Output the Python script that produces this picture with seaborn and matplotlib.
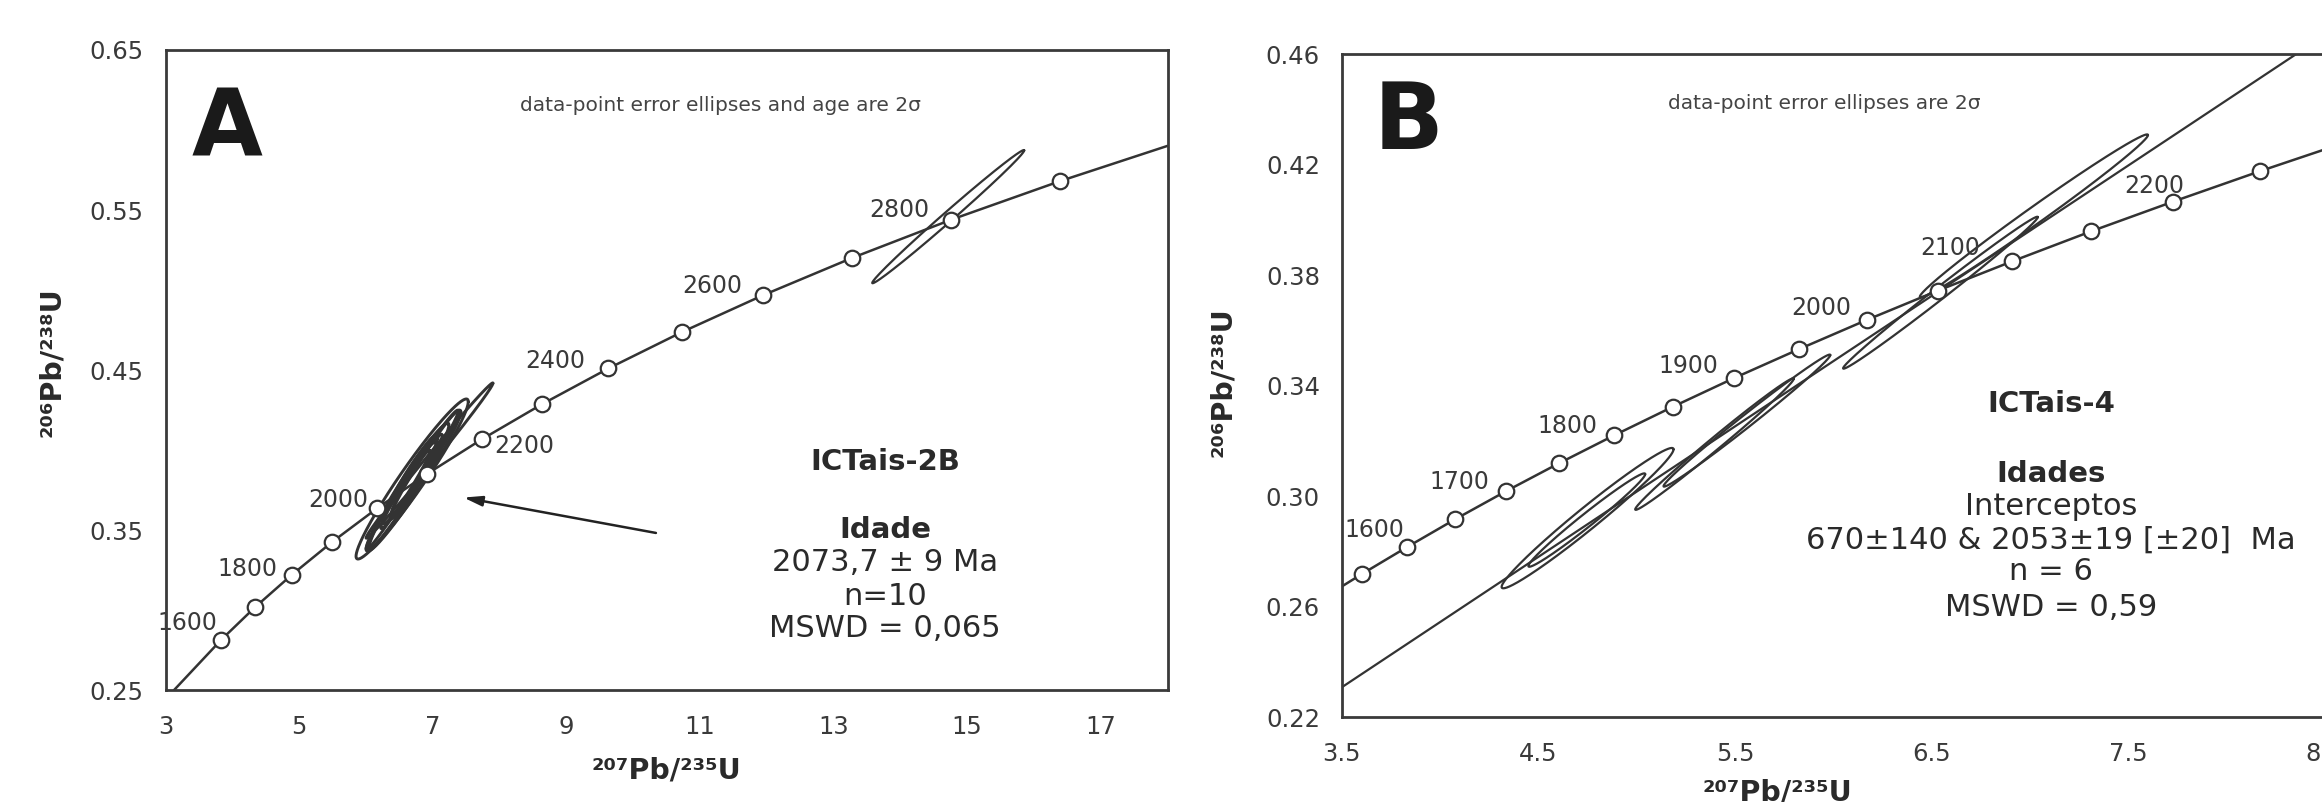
import numpy as np
import matplotlib
matplotlib.use('Agg')
import matplotlib.pyplot as plt
import seaborn as sns

# ---- data ----
# panel A: concordia markers (every 100 Ma)
ages_A = [1600, 1700, 1800, 1900, 2000, 2100, 2200, 2300, 2400, 2500, 2600, 2700, 2800, 2900]
pb207_A = [3.835, 4.335, 4.887, 5.496, 6.169, 6.911, 7.729, 8.633, 9.630, 10.730, 11.944, 13.283, 14.762, 16.393]
pb206_A = [0.2817, 0.3018, 0.3221, 0.3428, 0.3638, 0.3851, 0.4067, 0.4287, 0.4511, 0.4738, 0.4968, 0.5202, 0.5440, 0.5681]
curve_A_x = [3.122] + pb207_A + [18.0]
curve_A_y = [0.2500] + pb206_A + [0.5901]
labels_A = [1600, 1800, 2000, 2200, 2400, 2600, 2800]

# panel A error ellipses: x, half-width x, y, half-width y, rho
ell_A_x = [6.69, 6.95, 6.72, 6.62, 6.80, 6.55, 6.88, 6.66, 6.48, 6.76, 14.717]
ell_A_sx = [0.84, 0.95, 0.70, 0.62, 0.58, 0.50, 0.52, 0.42, 0.48, 0.38, 1.138]
ell_A_y = [0.382, 0.3935, 0.381, 0.377, 0.388, 0.372, 0.391, 0.382, 0.369, 0.385, 0.5459]
ell_A_sy = [0.050, 0.0485, 0.044, 0.040, 0.037, 0.033, 0.034, 0.028, 0.031, 0.025, 0.0416]
ell_A_rho = [0.965, 0.996, 0.975, 0.97, 0.985, 0.97, 0.98, 0.96, 0.985, 0.97, 0.995]

arrow_tail = (10.34, 0.3483)
arrow_head = (7.46, 0.3704)

# panel B: concordia markers (every 50 Ma)
ages_B = [1550, 1600, 1650, 1700, 1750, 1800, 1850, 1900, 1950, 2000, 2050, 2100, 2150, 2200, 2250]
pb207_B = [3.602, 3.835, 4.078, 4.335, 4.604, 4.887, 5.184, 5.496, 5.824, 6.169, 6.530, 6.911, 7.310, 7.729, 8.170]
pb206_B = [0.2718, 0.2817, 0.2917, 0.3018, 0.3119, 0.3221, 0.3324, 0.3428, 0.3532, 0.3638, 0.3744, 0.3851, 0.3959, 0.4067, 0.4177]
curve_B_x = [3.5] + pb207_B + [8.5]
curve_B_y = [0.2673] + pb206_B + [0.4256]
labels_B = [1600, 1700, 1800, 1900, 2000, 2100, 2200]

ell_B_x = [4.751, 4.747, 5.396, 5.561, 6.545, 7.020]
ell_B_sx = [0.437, 0.297, 0.403, 0.424, 0.495, 0.580]
ell_B_y = [0.2921, 0.2914, 0.3189, 0.3274, 0.3737, 0.4015]
ell_B_sy = [0.0254, 0.0169, 0.0238, 0.0239, 0.0275, 0.0295]
ell_B_rho = [0.980, 0.984, 0.993, 0.993, 0.995, 0.992]

# discordia (intercepts 670 and 2053 Ma), where it meets the plot edges
disc_x = [3.5, 8.5]
disc_y = [0.2308, 0.4670]

# ---- styling ----
sns.set_style('white')
plt.rcParams['font.family'] = ['DejaVu Sans']
LINE = '#333333'
TXT = '#3a3a3a'

lab_off_A = {1600: (-3, 12, 'right'), 1800: (-10, 4, 'right'), 2000: (-6.5, 5.5, 'right'),
             2200: (9, -5, 'left'), 2400: (-17, 5, 'right'), 2600: (-15, 6.5, 'right'),
             2800: (-16, 7, 'right')}
lab_off_B = {1600: (-2, 12, 'right'), 1700: (-11.5, 6.5, 'right'), 1800: (-12, 7, 'right'),
             1900: (-11.5, 8.6, 'right'), 2000: (-11, 9, 'right'), 2100: (-23, 9.4, 'right'),
             2200: (8, 11, 'right')}


def ellipse(x0, sx, y0, sy, rho, n=300):
    t = np.linspace(0, 2 * np.pi, n)
    ex = x0 + sx * np.cos(t)
    ey = y0 + sy * (rho * np.cos(t) + np.sqrt(1 - rho ** 2) * np.sin(t))
    return ex, ey


def concordia(ax, cx, cy, px, py, ages, labels, offs):
    sns.lineplot(x=cx, y=cy, ax=ax, color=LINE, linewidth=1.8, sort=False, estimator=None, zorder=2)
    sns.scatterplot(x=px, y=py, ax=ax, marker='o', s=125, color='white',
                    edgecolor=LINE, linewidth=1.6, zorder=6)
    for age, x, y in zip(ages, px, py):
        if age in labels:
            dx, dy, ha = offs[age]
            ax.annotate(str(age), (x, y), xytext=(dx, dy), textcoords='offset points',
                        ha=ha, va='center', fontsize=17, color=TXT, zorder=7)


def style_axes(ax):
    for s in ax.spines.values():
        s.set_linewidth(2.0)
        s.set_color('#3a3a3a')
    ax.tick_params(which='both', direction='in', color='#3a3a3a', width=1.6,
                   labelsize=17.5, labelcolor=TXT, top=False, right=False)


fig = plt.figure(figsize=(23.22, 8.02), dpi=100)

# ---------------- panel A ----------------
axA = fig.add_axes([0.07136, 0.13928, 0.43144, 0.79838])
for i in range(len(ell_A_x)):
    ex, ey = ellipse(ell_A_x[i], ell_A_sx[i], ell_A_y[i], ell_A_sy[i], ell_A_rho[i])
    axA.plot(ex, ey, color=LINE, lw=2.1 if i < 10 else 1.6, zorder=3)
concordia(axA, curve_A_x, curve_A_y, pb207_A, pb206_A, ages_A, labels_A, lab_off_A)
axA.annotate('', xy=arrow_head, xytext=arrow_tail,
             arrowprops=dict(arrowstyle='-|>,head_length=1.1,head_width=0.3',
                             color='#222222', lw=1.8, shrinkA=0, shrinkB=0))
axA.set_xlim(3, 18)
axA.set_ylim(0.25, 0.65)
axA.set_xticks([3, 5, 7, 9, 11, 13, 15, 17])
axA.set_yticks([0.25, 0.35, 0.45, 0.55, 0.65])
axA.set_yticklabels(['0.25', '0.35', '0.45', '0.55', '0.65'])
style_axes(axA)
axA.tick_params(axis='both', length=7.4)
axA.tick_params(axis='x', pad=18)
axA.tick_params(axis='y', pad=16)
axA.set_xlabel('')
axA.set_ylabel('')

axA.text(0.061, 0.876, 'A', transform=axA.transAxes, fontsize=66, fontweight='bold',
         color='#1a1a1a', ha='center', va='center')
axA.text(0.554, 0.914, 'data-point error ellipses and age are 2σ', transform=axA.transAxes,
         fontsize=14.5, color='#444444', ha='center', va='center')
blockA = [('ICTais-2B', 0.3568, 'bold'), ('Idade', 0.2503, 'bold'),
          ('2073,7 ± 9 Ma', 0.1993, 'normal'), ('n=10', 0.1472, 'normal'),
          ('MSWD = 0,065', 0.0972, 'normal')]
for s, yy, w in blockA:
    axA.text(0.718, yy, s, transform=axA.transAxes, fontsize=22 if w == 'normal' else 21,
             fontweight=w, color='#2a2a2a', ha='center', va='center')
axA.text(0.5, -0.104, '²⁰⁷Pb/²³⁵U', transform=axA.transAxes, fontsize=20.5,
         fontweight='bold', color='#2a2a2a', ha='center', va='top')
axA.text(-0.113, 0.513, '²⁰⁶Pb/²³⁸U', transform=axA.transAxes, fontsize=20.5,
         fontweight='bold', color='#2a2a2a', ha='center', va='center', rotation=90)

# ---------------- panel B ----------------
axB = fig.add_axes([0.57774, 0.10561, 0.42356, 0.82668])
for i in range(len(ell_B_x)):
    ex, ey = ellipse(ell_B_x[i], ell_B_sx[i], ell_B_y[i], ell_B_sy[i], ell_B_rho[i])
    axB.plot(ex, ey, color=LINE, lw=1.6, zorder=3)
sns.lineplot(x=disc_x, y=disc_y, ax=axB, color=LINE, linewidth=1.6, zorder=2)
concordia(axB, curve_B_x, curve_B_y, pb207_B, pb206_B, ages_B, labels_B, lab_off_B)
axB.set_xlim(3.5, 8.5)
axB.set_ylim(0.22, 0.46)
axB.set_xticks([3.5, 4.5, 5.5, 6.5, 7.5, 8.5])
axB.set_xticklabels(['3.5', '4.5', '5.5', '6.5', '7.5', '8.5'])
axB.set_xticks([4, 5, 6, 7, 8], minor=True)
axB.set_yticks([0.22, 0.26, 0.30, 0.34, 0.38, 0.42, 0.46])
axB.set_yticklabels(['0.22', '0.26', '0.30', '0.34', '0.38', '0.42', '0.46'])
axB.set_yticks([0.24, 0.28, 0.32, 0.36, 0.40, 0.44], minor=True)
style_axes(axB)
axB.tick_params(axis='x', which='major', length=5.8, pad=18)
axB.tick_params(axis='x', which='minor', length=4.1)
axB.tick_params(axis='y', which='major', length=7.2, pad=15.5)
axB.tick_params(axis='y', which='minor', length=5.5)
axB.set_xlabel('')
axB.set_ylabel('')

axB.text(0.0684, 0.897, 'B', transform=axB.transAxes, fontsize=66, fontweight='bold',
         color='#1a1a1a', ha='center', va='center')
axB.text(0.491, 0.9255, 'data-point error ellipses are 2σ', transform=axB.transAxes,
         fontsize=14.5, color='#444444', ha='center', va='center')
blockB = [('ICTais-4', 0.4721, 'bold'), ('Idades', 0.3670, 'bold'),
          ('Interceptos', 0.3180, 'normal'), ('670±140 & 2053±19 [±20]  Ma', 0.2666, 'normal'),
          ('n = 6', 0.2197, 'normal'), ('MSWD = 0,59', 0.1661, 'normal')]
for s, yy, w in blockB:
    axB.text(0.7214, yy, s, transform=axB.transAxes, fontsize=22 if w == 'normal' else 21,
             fontweight=w, color='#2a2a2a', ha='center', va='center')
axB.text(0.443, -0.093, '²⁰⁷Pb/²³⁵U', transform=axB.transAxes, fontsize=20.5,
         fontweight='bold', color='#2a2a2a', ha='center', va='top')
axB.text(-0.1205, 0.5057, '²⁰⁶Pb/²³⁸U', transform=axB.transAxes, fontsize=20.5,
         fontweight='bold', color='#2a2a2a', ha='center', va='center', rotation=90)

fig.savefig('out.png', dpi=100)
